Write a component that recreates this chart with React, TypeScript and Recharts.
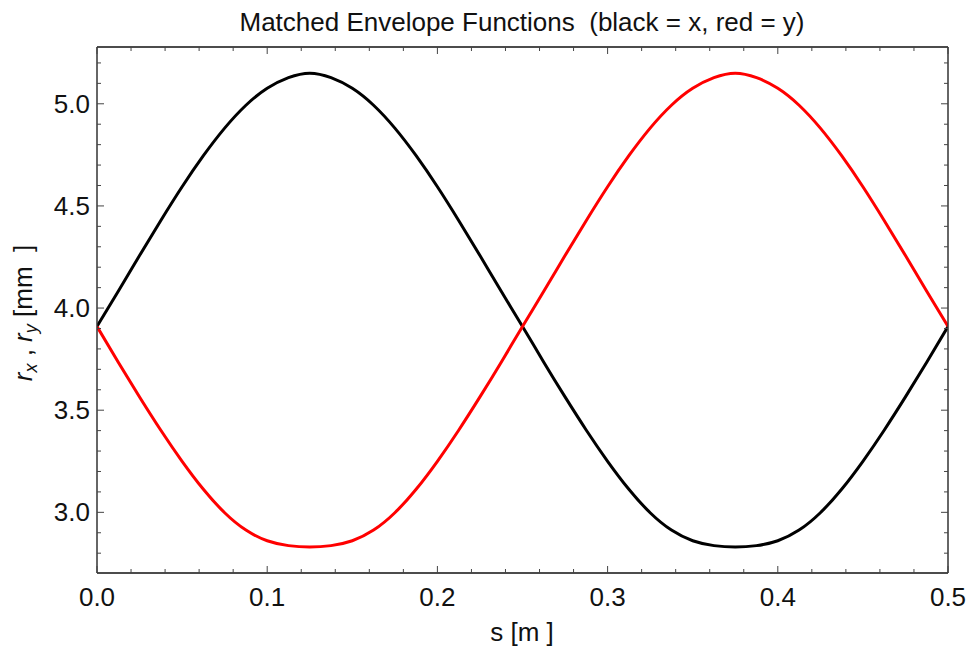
import { LineChart, Line, XAxis, YAxis } from 'recharts';

// positions along the lattice cell [m]
const sValues = [
  0, 0.0125, 0.025, 0.0375, 0.05, 0.0625, 0.075, 0.0875, 0.1, 0.1125,
  0.125, 0.1375, 0.15, 0.1625, 0.175, 0.1875, 0.2, 0.2125, 0.225, 0.2375,
  0.25, 0.2625, 0.275, 0.2875, 0.3, 0.3125, 0.325, 0.3375, 0.35, 0.3625,
  0.375, 0.3875, 0.4, 0.4125, 0.425, 0.4375, 0.45, 0.4625, 0.475, 0.4875,
  0.5,
];

// black = x envelope [mm]
const rxValues = [
  3.91, 4.082, 4.257, 4.429, 4.594, 4.746, 4.881, 4.993, 5.076, 5.128,
  5.15, 5.128, 5.076, 4.993, 4.881, 4.746, 4.594, 4.429, 4.257, 4.082,
  3.91, 3.735, 3.565, 3.402, 3.25, 3.113, 2.998, 2.913, 2.861, 2.837,
  2.83, 2.837, 2.861, 2.913, 2.998, 3.113, 3.25, 3.402, 3.565, 3.735,
  3.91,
];

// red = y envelope [mm]
const ryValues = [
  3.91, 3.735, 3.565, 3.402, 3.25, 3.113, 2.998, 2.913, 2.861, 2.837,
  2.83, 2.837, 2.861, 2.913, 2.998, 3.113, 3.25, 3.402, 3.565, 3.735,
  3.91, 4.082, 4.257, 4.429, 4.594, 4.746, 4.881, 4.993, 5.076, 5.128,
  5.15, 5.128, 5.076, 4.993, 4.881, 4.746, 4.594, 4.429, 4.257, 4.082,
  3.91,
];

const xTicks = [
  0, 0.02, 0.04, 0.06, 0.08, 0.1, 0.12, 0.14, 0.16, 0.18, 0.2, 0.22, 0.24,
  0.26, 0.28, 0.3, 0.32, 0.34, 0.36, 0.38, 0.4, 0.42, 0.44, 0.46, 0.48, 0.5,
];
const xMajor = [0, 0.1, 0.2, 0.3, 0.4, 0.5];

const yTicks = [
  2.8, 2.9, 3.0, 3.1, 3.2, 3.3, 3.4, 3.5, 3.6, 3.7, 3.8, 3.9, 4.0,
  4.1, 4.2, 4.3, 4.4, 4.5, 4.6, 4.7, 4.8, 4.9, 5.0, 5.1, 5.2,
];
const yMajor = [3.0, 3.5, 4.0, 4.5, 5.0];

const data = sValues.map((s, i) => ({ s, rx: rxValues[i], ry: ryValues[i] }));

const FONT = '"Liberation Sans", Arial, sans-serif';
const TICK_COLOR = '#444';
const Y_DOMAIN = [2.703, 5.278];

const isMajor = (v: number, majors: number[]) =>
  majors.some(m => Math.abs(m - v) < 1e-6);

// ticks point into the plot, labels only on major ticks
const makeXTick = (side: 'bottom' | 'top') => (props: any) => {
  const { x, y, payload } = props;
  const major = isMajor(payload.value, xMajor);
  const len = major ? 7 : 4;
  const dy = side === 'bottom' ? -len : len;
  return (
    <g>
      <line x1={x} x2={x} y1={y} y2={y + dy} stroke={TICK_COLOR} strokeWidth={1} />
      {side === 'bottom' && major && (
        <text x={x} y={y + 33} textAnchor="middle" fontSize={26}
          fontFamily={FONT} fill="#111">
          {payload.value.toFixed(1)}
        </text>
      )}
    </g>
  );
};

const makeYTick = (side: 'left' | 'right') => (props: any) => {
  const { x, y, payload } = props;
  const major = isMajor(payload.value, yMajor);
  const len = major ? 7 : 4;
  const dx = side === 'left' ? len : -len;
  return (
    <g>
      <line x1={x} x2={x + dx} y1={y} y2={y} stroke={TICK_COLOR} strokeWidth={1} />
      {side === 'left' && major && (
        <text x={x - 7} y={y + 9} textAnchor="end" fontSize={26}
          fontFamily={FONT} fill="#111">
          {payload.value.toFixed(1)}
        </text>
      )}
    </g>
  );
};

export default function App() {
  return (
    <div style={{ position: 'absolute', left: 0, top: 0, width: 971, height: 656, background: '#fff' }}>
      <svg width={971} height={656} style={{ position: 'absolute', left: 0, top: 0 }}>
        <text x={522} y={31} textAnchor="middle" fontSize={26} fontFamily={FONT}
          fill="#111" style={{ whiteSpace: 'pre' }}>
          {'Matched Envelope Functions  (black = x, red = y)'}
        </text>
        <text x={522} y={641} textAnchor="middle" fontSize={26} fontFamily={FONT}
          fill="#111" style={{ whiteSpace: 'pre' }}>
          {'s [m ]'}
        </text>
        <text transform="translate(32, 313) rotate(-90)" textAnchor="middle"
          fontSize={26} fontFamily={FONT} fill="#111" style={{ whiteSpace: 'pre' }}>
          <tspan fontStyle="italic">r</tspan>
          <tspan fontSize={18} fontStyle="italic" dy={5}>x</tspan>
          <tspan dy={-5}>{' , '}</tspan>
          <tspan fontStyle="italic">r</tspan>
          <tspan fontSize={18} fontStyle="italic" dy={5}>y</tspan>
          <tspan dy={-5}>{' [mm  ]'}</tspan>
        </text>
      </svg>
      <div style={{ position: 'absolute', left: 0, top: 0 }}>
        <LineChart width={971} height={656} data={data}
          margin={{ top: 46, right: 22, bottom: 0, left: 0 }}>
          <XAxis dataKey="s" type="number" domain={[0, 0.5]} ticks={xTicks}
            interval={0} height={83} tickSize={0} tickMargin={0}
            axisLine={{ stroke: '#111', strokeWidth: 1.5 }} tickLine={false}
            tick={makeXTick('bottom')} allowDataOverflow />
          <XAxis xAxisId="top" orientation="top" dataKey="s" type="number"
            domain={[0, 0.5]} ticks={xTicks} interval={0} height={1}
            tickSize={0} tickMargin={0}
            axisLine={{ stroke: '#111', strokeWidth: 1.5 }} tickLine={false}
            tick={makeXTick('top')} allowDataOverflow />
          <YAxis type="number" domain={Y_DOMAIN} ticks={yTicks}
            interval={0} width={97} tickSize={0} tickMargin={0}
            axisLine={{ stroke: '#333', strokeWidth: 1.5 }} tickLine={false}
            tick={makeYTick('left')} allowDataOverflow />
          <YAxis yAxisId="right" orientation="right" type="number"
            domain={Y_DOMAIN} ticks={yTicks} interval={0} width={1}
            tickSize={0} tickMargin={0}
            axisLine={{ stroke: '#333', strokeWidth: 1.5 }} tickLine={false}
            tick={makeYTick('right')} allowDataOverflow />
          <Line type="natural" dataKey="rx" stroke="#000" strokeWidth={3}
            dot={false} isAnimationActive={false} />
          {/* red curve sits on the mirrored axes (same domains) so the frame is drawn */}
          <Line type="natural" dataKey="ry" xAxisId="top" yAxisId="right"
            stroke="#ff0000" strokeWidth={3} dot={false} isAnimationActive={false} />
        </LineChart>
      </div>
    </div>
  );
}
